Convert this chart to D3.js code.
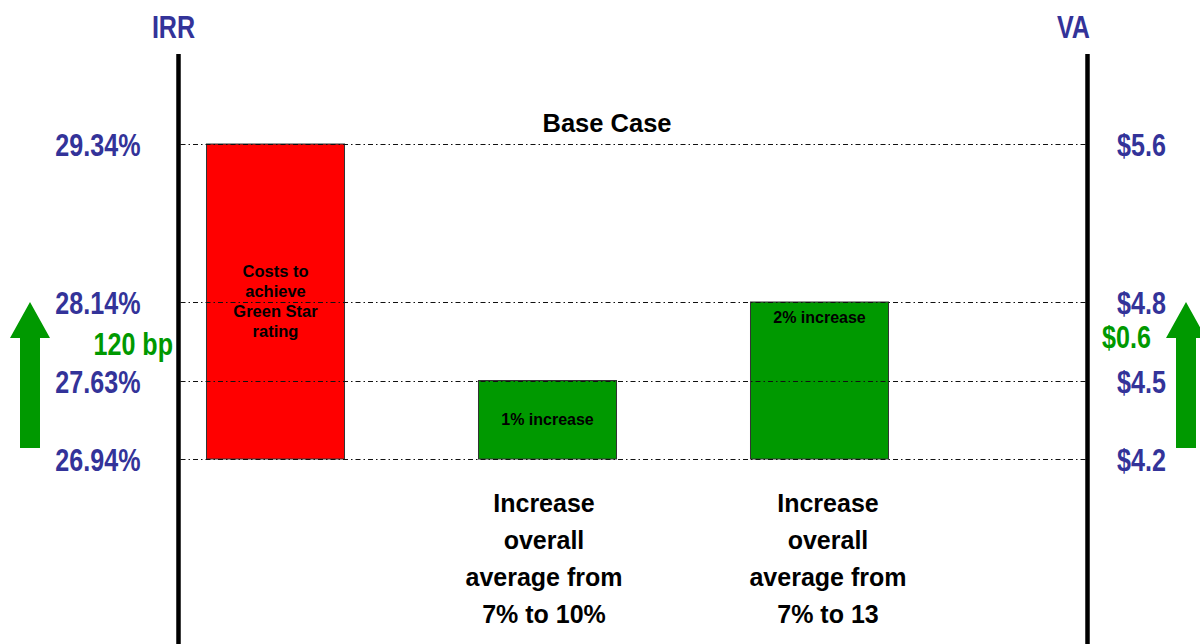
<!DOCTYPE html>
<html>
<head>
<meta charset="utf-8">
<script src="https://cdn.jsdelivr.net/npm/d3@7/dist/d3.min.js"></script>
<style>
  html, body { margin: 0; padding: 0; background: #ffffff; }
  svg { display: block; }
  text { font-family: "Liberation Sans", Arial, Helvetica, sans-serif; font-weight: bold; }
</style>
</head>
<body>
<svg id="chart" width="1200" height="644"></svg>
<script>
// ---- data ----
const categories = ["Costs to achieve Green Star rating", "1% increase", "2% increase"];
const barLabelLines = [["Costs to", "achieve", "Green Star", "rating"], ["1% increase"], ["2% increase"]];
const irrBase = 26.94;
const irrTop = [29.34, 27.63, 28.14];
const barKinds = ["cost", "gain", "gain"];
const irrTicks = [26.94, 27.63, 28.14, 29.34];
const irrTickLabels = ["26.94%", "27.63%", "28.14%", "29.34%"];
const vaTicks = [4.2, 4.5, 4.8, 5.6];
const vaTickLabels = ["$4.2", "$4.5", "$4.8", "$5.6"];
const irrGain = [26.94, 28.14];     // 120 bp uplift
const vaGain = [4.2, 4.8];          // $0.6 uplift
const captions = [null,
  ["Increase", "overall", "average from", "7% to 10%"],
  ["Increase", "overall", "average from", "7% to 13"]];

// ---- styles ----
const BLUE = "#333399";
const GREEN = "#009900";
const RED = "#ff0000";
const NARROW = 0.785;   // condensed look for axis labels

const svg = d3.select("#chart");
const W = 1200, H = 644;
const axisL = 178.5, axisR = 1087.5, axisTop = 54;

// piecewise scales: each tick level sits on the slide's schematic grid
const y = d3.scaleLinear().domain(irrTicks).range([459, 380.5, 302, 144]);
const yVA = d3.scaleLinear().domain(vaTicks).range([459, 380.5, 302, 144]);

const x = d3.scaleBand().domain(categories).range([138.5, 956.5])
  .paddingInner(0.4926).paddingOuter(0.25);

// ---- bars ----
svg.append("g").selectAll("rect").data(categories).join("rect")
  .attr("x", d => x(d))
  .attr("width", x.bandwidth())
  .attr("y", (d, i) => y(irrTop[i]))
  .attr("height", (d, i) => y(irrBase) - y(irrTop[i]))
  .attr("fill", (d, i) => barKinds[i] === "cost" ? RED : GREEN)
  .attr("stroke", "#333")
  .attr("stroke-width", 1);

// ---- dash-dot reference lines (over the bars) ----
svg.append("g").selectAll("line").data(irrTicks).join("line")
  .attr("x1", axisL + 2).attr("x2", axisR - 2)
  .attr("y1", d => Math.round(y(d)) + 0.5).attr("y2", d => Math.round(y(d)) + 0.5)
  .attr("stroke", "#111").attr("stroke-width", 1)
  .attr("stroke-dasharray", "5,3,1.5,3");

// ---- axes (thick vertical rules) ----
[axisL, axisR].forEach(ax => {
  svg.append("line").attr("x1", ax).attr("x2", ax)
    .attr("y1", axisTop).attr("y2", H)
    .attr("stroke", "#000").attr("stroke-width", 4.5);
});

// left axis labels
const leftAxis = d3.axisLeft(y).tickValues(irrTicks).tickSize(0)
  .tickFormat((d, i) => irrTickLabels[i]);
const gl = svg.append("g").attr("transform", `translate(${axisL},0)`).call(leftAxis);
gl.select(".domain").remove();
gl.selectAll(".tick text")
  .attr("x", 0).attr("dy", null).attr("y", 0)
  .attr("transform", `translate(-38,11.5) scale(${NARROW},1)`)
  .attr("text-anchor", "end")
  .attr("fill", BLUE)
  .style("font-size", "32px")
  .style("font-family", "'Liberation Sans', Arial, sans-serif")
  .style("font-weight", "bold");

// right axis labels
const rightAxis = d3.axisRight(yVA).tickValues(vaTicks).tickSize(0)
  .tickFormat((d, i) => vaTickLabels[i]);
const gr = svg.append("g").attr("transform", `translate(${axisR},0)`).call(rightAxis);
gr.select(".domain").remove();
gr.selectAll(".tick text")
  .attr("x", 0).attr("dy", null).attr("y", 0)
  .attr("transform", `translate(29.5,11.5) scale(${NARROW},1)`)
  .attr("text-anchor", "start")
  .attr("fill", BLUE)
  .style("font-size", "32px")
  .style("font-family", "'Liberation Sans', Arial, sans-serif")
  .style("font-weight", "bold");

// narrow text helper
function narrowText(xp, yp, str, anchor, color, size) {
  svg.append("text")
    .attr("transform", `translate(${xp},${yp}) scale(${NARROW},1)`)
    .attr("text-anchor", anchor)
    .attr("fill", color)
    .style("font-size", size + "px")
    .text(str);
}

// axis titles
narrowText(axisL - 5, 38, "IRR", "middle", BLUE, 32);
narrowText(axisR - 14, 38, "VA", "middle", BLUE, 32);

// uplift labels
narrowText(173, y((irrGain[0] + irrGain[1]) / 2 + 0.33) + 11, "120 bp", "end", GREEN, 32);
narrowText(1102, yVA((vaGain[0] + vaGain[1]) / 2 + 0.165) + 11, "$" + (vaGain[1] - vaGain[0]).toFixed(1), "start", GREEN, 32);

// uplift arrows
function upArrow(cx, tipY, baseY) {
  const shaftHalf = 10, headHalf = 20, headLen = 36;
  const pts = [
    [cx, tipY], [cx + headHalf, tipY + headLen], [cx + shaftHalf, tipY + headLen],
    [cx + shaftHalf, baseY], [cx - shaftHalf, baseY], [cx - shaftHalf, tipY + headLen],
    [cx - headHalf, tipY + headLen]
  ];
  svg.append("path").attr("d", d3.line()(pts) + "Z").attr("fill", GREEN);
}
upArrow(30, y(irrGain[1]), y(irrGain[0]) - 11);
upArrow(1186, yVA(vaGain[1]), yVA(vaGain[0]) - 11);

// "Base Case" heading above the top reference line
svg.append("text")
  .attr("x", 607).attr("y", y(irrTicks[3]) - 12)
  .attr("text-anchor", "middle").attr("fill", "#000")
  .style("font-size", "25.5px")
  .text("Base Case");

// labels inside bars
const barLabelLineH = 20.3;
categories.forEach((c, i) => {
  const lines = barLabelLines[i];
  const top = y(irrTop[i]), bottom = y(irrBase);
  let first;
  if (i === 2) first = top + 21;
  else first = (top + bottom) / 2 - (lines.length - 1) * barLabelLineH / 2 + 5.5;
  const t = svg.append("text")
    .attr("text-anchor", "middle").attr("fill", "#000")
    .style("font-size", i === 0 ? "16.5px" : "16px");
  lines.forEach((ln, k) => {
    t.append("tspan").attr("x", x(c) + x.bandwidth() / 2)
      .attr("y", first + k * barLabelLineH).text(ln);
  });
});

// captions beneath the green bars
const captionShift = [0, -3.5, 8.5];
categories.forEach((c, i) => {
  const lines = captions[i];
  if (!lines) return;
  const t = svg.append("text")
    .attr("text-anchor", "middle").attr("fill", "#000")
    .style("font-size", "25px");
  lines.forEach((ln, k) => {
    t.append("tspan").attr("x", x(c) + x.bandwidth() / 2 + captionShift[i])
      .attr("y", y(irrBase) + 53 + k * 37).text(ln);
  });
});
</script>
</body>
</html>
